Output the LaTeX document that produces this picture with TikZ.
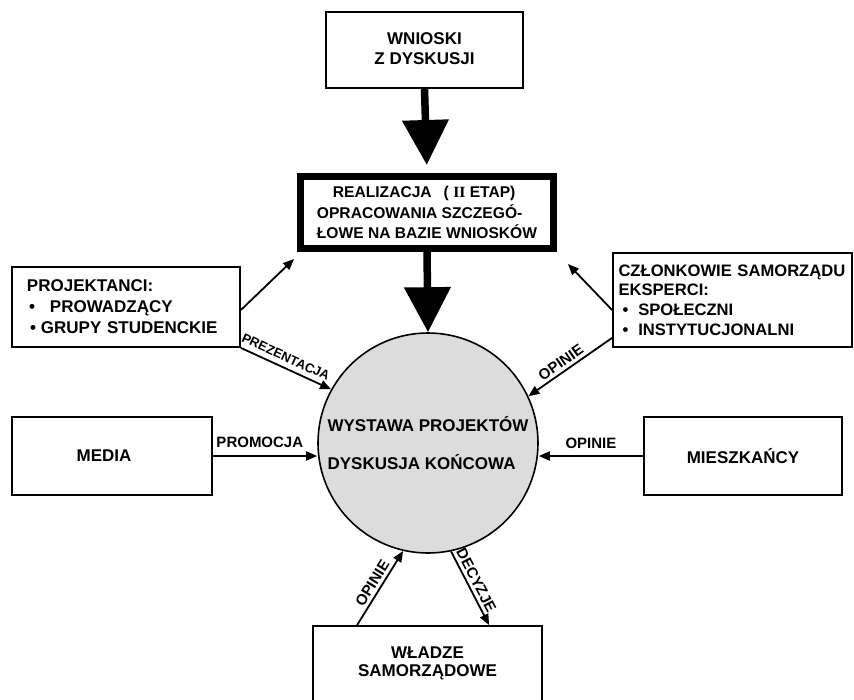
\documentclass[tikz,border=0pt]{standalone}
\usepackage{fontspec}
\setmainfont{Liberation Sans}
\newfontfamily\romanII{Liberation Serif}
\usetikzlibrary{arrows.meta,calc}
\definecolor{circlegray}{HTML}{DCDCDC}

\begin{document}
\begin{tikzpicture}[x=1pt,y=-1pt,
  box/.style={draw=black, line width=1.8pt, inner sep=0pt},
  boxtext/.style={font=\bfseries\fontsize{17}{20}\selectfont},
  conn/.style={line width=1.8pt, -{Triangle[length=11pt,width=9pt]}},
  bigarrow/.style={line width=7.5pt, -{Triangle[length=45pt,width=45pt]}},
  lbl/.style={font=\bfseries\fontsize{15}{15}\selectfont, inner sep=2pt},
  smalllbl/.style={font=\bfseries\fontsize{13}{13}\selectfont, inner sep=2pt}
]
\useasboundingbox (0,0) rectangle (854,699);
\clip (0,0) rectangle (854,699);

% boxes
\node[box, boxtext, align=center, minimum width=197pt, minimum height=76pt]
  (wnioski) at (424.5,50) {WNIOSKI\\Z DYSKUSJI\vphantom{g}};

\node[draw=black, line width=7pt, inner sep=0pt, minimum width=253pt, minimum height=72pt,
  align=left, font=\bfseries\fontsize{15.6}{20.5}\selectfont]
  (realizacja) at (427,212.5)
  {\hspace*{16pt}REALIZACJA\hspace{12pt}( {\romanII II} ETAP)\\OPRACOWANIA SZCZEGÓ-\\ŁOWE NA BAZIE WNIOSKÓW};

\node[box, text width=198pt, inner xsep=15pt, align=left, minimum height=80pt,
  font=\bfseries\fontsize{17}{21}\selectfont]
  (projektanci) at (126,307)
  {PROJEKTANCI:\\\hspace*{2pt}•\hspace*{15pt}PROWADZĄCY\\\hspace*{3pt}•\hspace*{5pt}GRUPY STUDENCKIE};

\node[box, text width=228pt, inner xsep=5.5pt, align=left, minimum height=94pt,
  font=\bfseries\fontsize{16.6}{19.7}\selectfont]
  (czlonkowie) at (732.5,300)
  {CZŁONKOWIE SAMORZĄDU\\EKSPERCI:\\\hspace*{4pt}•\hspace*{10pt}SPOŁECZNI\\\hspace*{4pt}•\hspace*{10pt}INSTYTUCJONALNI};

\node[box, boxtext, minimum width=200pt, minimum height=78pt]
  (media) at (112,456) {\hspace*{-16pt}MEDIA};

\node[box, boxtext, minimum width=198pt, minimum height=78pt]
  (mieszkancy) at (743,456) {MIESZKAŃCY};

% the lower box runs past the bottom edge of the page
\node[box, align=center, minimum width=229pt, minimum height=75pt,
  font=\bfseries\fontsize{17}{18.5}\selectfont]
  (wladze) at (427.5,663.5) {WŁADZE\\SAMORZĄDOWE};

% central circle
\node[circle, draw=black, line width=1.6pt, fill=circlegray, minimum size=220pt, inner sep=0pt,
  align=left, font=\bfseries\fontsize{17}{38}\selectfont]
  (wystawa) at (428,443) {WYSTAWA PROJEKTÓW\\DYSKUSJA KOŃCOWA};

% thick arrows along the main axis
\draw[bigarrow, shorten >=8pt] (wnioski.south) -- (realizacja.north);
\draw[bigarrow] (realizacja.south) -- (wystawa.north);

% thin connectors
\draw[conn] ($(projektanci.east)+(0,3)$) -- ($(realizacja.south west)+(-3,7)$);
\draw[conn] ($(czlonkowie.west)+(0,10)$) -- ($(realizacja.south east)+(11,12)$);

\draw[conn] (projektanci.south east) -- node[smalllbl, sloped, above=3pt, pos=0.45] {PREZENTACJA} (wystawa.151);
\draw[conn] ($(czlonkowie.south west)+(0,-10)$) -- node[lbl, sloped, above=1pt, pos=0.55] {OPINIE} (wystawa.25);

\draw[conn] (media.east) -- node[lbl, above=5pt, pos=0.45] {PROMOCJA} (media.east -| wystawa.west);
\draw[conn] (mieszkancy.west) -- node[lbl, above=4pt] {OPINIE} (mieszkancy.west -| wystawa.east);

\draw[conn] ($(wladze.north west)+(45,0)$) -- node[lbl, sloped, above=1pt] {OPINIE} (wystawa.257);
\draw[conn] (wystawa.282) -- node[lbl, sloped, above=1pt, pos=0.45] {DECYZJE} ($(wladze.north west)+(177,0)$);

\end{tikzpicture}
\end{document}
